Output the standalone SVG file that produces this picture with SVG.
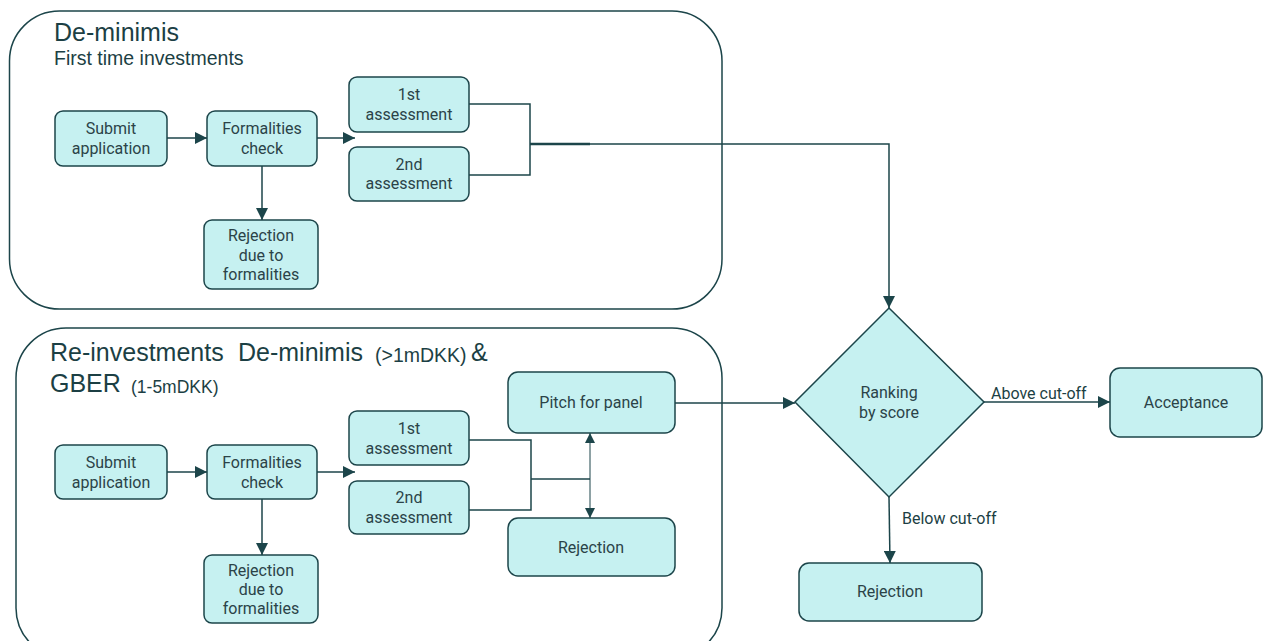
<svg xmlns="http://www.w3.org/2000/svg" width="1265" height="641" viewBox="0 0 1265 641">
<defs>
<marker id="ah" viewBox="0 0 12 12" refX="12" refY="6" markerWidth="12" markerHeight="12" markerUnits="userSpaceOnUse" orient="auto-start-reverse">
<path d="M0,0 L12,6 L0,12 Z" fill="#1c454a"/>
</marker>
<marker id="ahs" viewBox="0 0 10 10" refX="10" refY="5" markerWidth="10" markerHeight="10" markerUnits="userSpaceOnUse" orient="auto-start-reverse">
<path d="M0,0 L10,5 L0,10 Z" fill="#1c454a"/>
</marker>
<style>
.box{fill:#c6f1f1;stroke:#1c454a;stroke-width:1.5}
.cont{fill:none;stroke:#1c454a;stroke-width:1.5}
.t{font-family:Roboto,"Liberation Sans",sans-serif;font-size:16px;fill:#2b4348;text-anchor:middle}
.h{font-family:"Liberation Sans",Arial,sans-serif;fill:#1c3f44}
.c{fill:none;stroke:#1c454a;stroke-width:1.5}
.lbl{font-family:Roboto,"Liberation Sans",sans-serif;font-size:16px;fill:#1c3f44}
</style>
</defs>
<rect width="1265" height="641" fill="#ffffff"/>

<g id="container-top">
<rect class="cont" x="9.5" y="11" width="712.5" height="298" rx="50"/>
<text class="h" x="54" y="41" font-size="25">De-minimis</text>
<text class="h" x="54" y="65" font-size="19.5">First time investments</text>
</g>
<g id="container-bottom">
<rect class="cont" x="16" y="328" width="706" height="330" rx="50"/>
<text class="h" x="50" y="361" font-size="25">Re-investments</text>
<text class="h" x="238" y="361" font-size="25">De-minimis</text>
<text class="h" x="375" y="362" font-size="19.5">(&gt;1mDKK)</text>
<text class="h" x="471" y="361" font-size="25">&amp;</text>
<text class="h" x="50" y="392" font-size="25">GBER</text>
<text class="h" x="131" y="393" font-size="17.5">(1-5mDKK)</text>
</g>

<g id="connectors">
<line class="c" x1="167" y1="138" x2="207" y2="138" marker-end="url(#ah)"/>
<line class="c" x1="317" y1="138" x2="355" y2="138" marker-end="url(#ah)"/>
<line class="c" x1="262" y1="166" x2="262" y2="220" marker-end="url(#ah)"/>
<polyline class="c" points="469,104 530,104 530,175 469,175"/>
<line x1="530" y1="144" x2="590" y2="144" stroke="#1c454a" stroke-width="2.5"/>
<polyline class="c" points="590,144 889,144 889,308" marker-end="url(#ah)"/>

<line class="c" x1="167" y1="472" x2="207" y2="472" marker-end="url(#ah)"/>
<line class="c" x1="317" y1="472" x2="355" y2="472" marker-end="url(#ah)"/>
<line class="c" x1="262" y1="499" x2="262" y2="555" marker-end="url(#ah)"/>
<polyline class="c" points="469,440 531,440 531,510 469,510"/>
<line class="c" x1="531" y1="479" x2="590" y2="479"/>
<line x1="590" y1="433" x2="590" y2="518" stroke="#1c454a" stroke-width="1" marker-start="url(#ahs)" marker-end="url(#ahs)"/>
<line class="c" x1="675" y1="403" x2="795" y2="403" marker-end="url(#ah)"/>
<line class="c" x1="984" y1="402" x2="1110" y2="402" marker-end="url(#ah)"/>
<line class="c" x1="889" y1="497" x2="890" y2="563" marker-end="url(#ah)"/>
<text class="lbl" x="991" y="399">Above cut-off</text>
<text class="lbl" x="902" y="524">Below cut-off</text>
</g>

<g id="submit-1"><rect class="box" x="55" y="111" width="112" height="55" rx="8"/><text class="t" x="111" y="134">Submit</text><text class="t" x="111" y="154">application</text></g>
<g id="formal-1"><rect class="box" x="207" y="111" width="110" height="55" rx="8"/><text class="t" x="262" y="134">Formalities</text><text class="t" x="262" y="154">check</text></g>
<g id="rej-formal-1"><rect class="box" x="204" y="220" width="114" height="69" rx="8"/><text class="t" x="261" y="241">Rejection</text><text class="t" x="261" y="261">due to</text><text class="t" x="261" y="280">formalities</text></g>
<g id="assess1-1"><rect class="box" x="349" y="77" width="120" height="55" rx="8"/><text class="t" x="409" y="100">1st</text><text class="t" x="409" y="120">assessment</text></g>
<g id="assess2-1"><rect class="box" x="349" y="147" width="120" height="54" rx="8"/><text class="t" x="409" y="170">2nd</text><text class="t" x="409" y="189">assessment</text></g>

<g id="submit-2"><rect class="box" x="55" y="445" width="112" height="54" rx="8"/><text class="t" x="111" y="468">Submit</text><text class="t" x="111" y="488">application</text></g>
<g id="formal-2"><rect class="box" x="207" y="445" width="110" height="54" rx="8"/><text class="t" x="262" y="468">Formalities</text><text class="t" x="262" y="488">check</text></g>
<g id="rej-formal-2"><rect class="box" x="204" y="555" width="114" height="68" rx="8"/><text class="t" x="261" y="576">Rejection</text><text class="t" x="261" y="595">due to</text><text class="t" x="261" y="614">formalities</text></g>
<g id="assess1-2"><rect class="box" x="349" y="411" width="120" height="54" rx="8"/><text class="t" x="409" y="434">1st</text><text class="t" x="409" y="454">assessment</text></g>
<g id="assess2-2"><rect class="box" x="349" y="481" width="120" height="53" rx="8"/><text class="t" x="409" y="503">2nd</text><text class="t" x="409" y="523">assessment</text></g>
<g id="pitch"><rect class="box" x="508" y="372" width="167" height="61" rx="10"/><text class="t" x="591" y="408">Pitch for panel</text></g>
<g id="rej-panel"><rect class="box" x="508" y="518" width="167" height="58" rx="10"/><text class="t" x="591" y="553">Rejection</text></g>

<g id="ranking"><polygon class="box" points="889,308 984,402 889,497 795,402"/><text class="t" x="889" y="398">Ranking</text><text class="t" x="889" y="418">by score</text></g>
<g id="acceptance"><rect class="box" x="1110" y="368" width="152" height="69" rx="10"/><text class="t" x="1186" y="408">Acceptance</text></g>
<g id="rejection"><rect class="box" x="799" y="563" width="183" height="58" rx="10"/><text class="t" x="890" y="597">Rejection</text></g>
</svg>
